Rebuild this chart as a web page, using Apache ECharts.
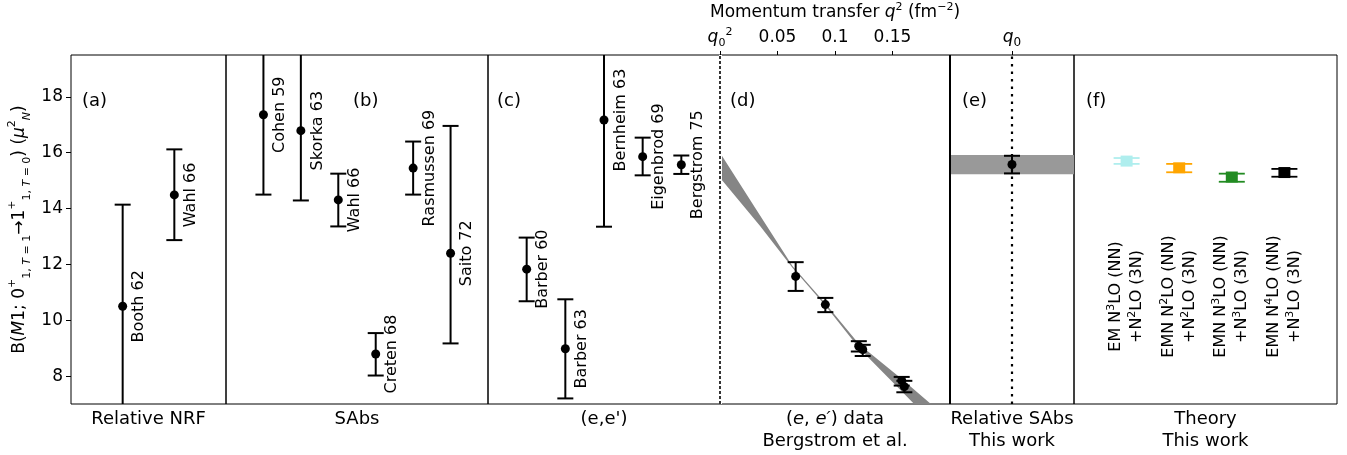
<!DOCTYPE html>
<html>
<head>
<meta charset="utf-8">
<script src="https://cdn.jsdelivr.net/npm/echarts@6.0.0/dist/echarts.min.js"></script>
<style>
  html, body { margin: 0; padding: 0; background: #fff; }
  #chart { width: 1347px; height: 455px; }
</style>
</head>
<body>
<div id="chart"></div>
<script>
// y ticks shared by every panel
var yTicks = [8, 10, 12, 14, 16, 18];

// (a) relative NRF
var nrfNames = ['Booth 62', 'Wahl 66'];
var nrfX = [1, 2];
var nrfVal = [10.5, 14.49];
var nrfLo = [6.5, 12.87];
var nrfHi = [14.14, 16.12];

// (b) SAbs
var sabsNames = ['Cohen 59', 'Skorka 63', 'Wahl 66', 'Creten 68', 'Rasmussen 69', 'Saito 72'];
var sabsX = [1, 2, 3, 4, 5, 6];
var sabsVal = [17.36, 16.79, 14.31, 8.79, 15.45, 12.4];
var sabsLo = [14.5, 14.29, 13.36, 8.02, 14.5, 9.17];
var sabsHi = [20.3, 20.1, 15.25, 9.54, 16.4, 16.96];

// (c) (e,e')
var eeNames = ['Barber 60', 'Barber 63', 'Bernheim 63', 'Eigenbrod 69', 'Bergstrom 75'];
var eeX = [1, 2, 3, 4, 5];
var eeVal = [11.83, 8.98, 17.17, 15.86, 15.57];
var eeLo = [10.68, 7.2, 13.35, 15.19, 15.24];
var eeHi = [12.96, 10.75, 21.0, 16.54, 15.9];

// (d) (e,e') data vs q^2
var qTicks = [0, 0.05, 0.1, 0.15];
var qSq = [0.0658, 0.0916, 0.1207, 0.1241, 0.158, 0.1603];
var qVal = [11.57, 10.56, 9.07, 8.95, 7.84, 7.62];
var qLo = [11.05, 10.29, 8.88, 8.72, 7.66, 7.42];
var qHi = [12.08, 10.80, 9.25, 9.12, 7.97, 7.83];
var bandQ = [0, 0.0347, 0.063, 0.0919, 0.121, 0.1586, 0.2];
var bandHi = [16.0, 13.76, 11.94, 10.59, 9.14, 7.88, 6.41];
var bandLo = [15.1, 13.38, 11.88, 10.51, 9.0, 7.43, 5.69];

// (e) this work
var swVal = [15.58];
var swLo = [15.26];
var swHi = [15.89];
var swBand = [15.23, 15.92];

// (f) theory
var thX = [1, 2, 3, 4];
var thVal = [15.70, 15.46, 15.13, 15.29];
var thLo = [15.60, 15.30, 14.96, 15.14];
var thHi = [15.81, 15.60, 15.25, 15.42];
var thColors = ['#afeeee', '#ffa500', '#228b22', '#000000'];
var thLabels = [
  '{t|EM N}{s|3}{t|LO (NN)}\n{t|+N}{s|2}{t|LO (3N)}',
  '{t|EMN N}{s|2}{t|LO (NN)}\n{t|+N}{s|2}{t|LO (3N)}',
  '{t|EMN N}{s|3}{t|LO (NN)}\n{t|+N}{s|3}{t|LO (3N)}',
  '{t|EMN N}{s|4}{t|LO (NN)}\n{t|+N}{s|3}{t|LO (3N)}'
];
var thLabelY = 10.85;

var FONT = 'DejaVu Sans';
var chart = echarts.init(document.getElementById('chart'));

function rows(xs, v, lo, hi) {
  return xs.map(function (x, i) { return [x, v[i], lo[i], hi[i]]; });
}
function named(names, xs, v) {
  return names.map(function (n, i) { return { name: n, value: [xs[i], v[i]] }; });
}
function errorBars(capHalf, lw, colors) {
  return function (params, api) {
    var x = api.value(0);
    var lo = api.coord([x, api.value(2)]);
    var hi = api.coord([x, api.value(3)]);
    var c = colors ? colors[params.dataIndex] : '#000';
    var st = { stroke: c, lineWidth: lw };
    return {
      type: 'group',
      children: [
        { type: 'line', shape: { x1: lo[0], y1: lo[1], x2: hi[0], y2: hi[1] }, style: st },
        { type: 'line', shape: { x1: lo[0] - capHalf, y1: lo[1], x2: lo[0] + capHalf, y2: lo[1] }, style: st },
        { type: 'line', shape: { x1: hi[0] - capHalf, y1: hi[1], x2: hi[0] + capHalf, y2: hi[1] }, style: st }
      ]
    };
  };
}

var grids = [
  { left: 71, width: 155 },
  { left: 226, width: 262 },
  { left: 488, width: 232 },
  { left: 720, width: 230 },
  { left: 950, width: 124 },
  { left: 1074, width: 263 }
].map(function (g) {
  return { left: g.left, width: g.width, top: 55, height: 349, show: true,
    outerBoundsMode: 'none', containLabel: false,
    borderColor: '#000', borderWidth: 1, backgroundColor: 'transparent' };
});

var nameStyle = { fontSize: 18, color: '#000', fontFamily: FONT, lineHeight: 22,
  rich: { n: { fontSize: 18, fontFamily: FONT, lineHeight: 22 },
          i: { fontSize: 18, fontFamily: FONT, fontStyle: 'italic', lineHeight: 22 } } };

var bottomNames = ['Relative NRF', 'SAbs', "(e,e')",
  '{n|(}{i|e}{n|, }{i|e′}{n|) data}\n{n|Bergstrom et al.}',
  'Relative SAbs\nThis work', 'Theory\nThis work'];
var xRanges = [[0, 3], [0, 7], [0, 6], [0, 0.2], [0, 2], [0, 5]];

var xAxes = bottomNames.map(function (nm, i) {
  return {
    gridIndex: i, type: 'value', position: 'bottom',
    min: xRanges[i][0], max: xRanges[i][1],
    axisLine: { show: false }, axisTick: { show: false }, axisLabel: { show: false },
    splitLine: { show: false },
    name: nm, nameLocation: 'middle', nameGap: 4, nameTextStyle: nameStyle
  };
});
// top axis of (d): momentum transfer
xAxes.push({
  gridIndex: 3, type: 'value', position: 'top', min: 0, max: 0.2,
  axisLine: { show: false }, splitLine: { show: false },
  axisTick: { show: true, customValues: qTicks, length: 4, lineStyle: { color: '#000', width: 1 } },
  axisLabel: {
    show: true, customValues: qTicks, margin: 6, fontSize: 17, color: '#000', fontFamily: FONT,
    formatter: function (v) { return v === 0 ? '{i|q}{sb|0}{sp|2}' : '{n|' + v + '}'; },
    rich: {
      n: { fontSize: 17, fontFamily: FONT, lineHeight: 22 },
      i: { fontSize: 17, fontFamily: FONT, fontStyle: 'italic', lineHeight: 22 },
      sb: { fontSize: 11, fontFamily: FONT, lineHeight: 12, verticalAlign: 'bottom' },
      sp: { fontSize: 11, fontFamily: FONT, lineHeight: 12, verticalAlign: 'top' }
    }
  },
  name: 'Momentum transfer {i|q}{sp|2} (fm{sp|−2})', nameLocation: 'middle', nameGap: 31,
  nameTextStyle: {
    fontSize: 17, color: '#000', fontFamily: FONT,
    rich: {
      n: { fontSize: 17, fontFamily: FONT },
      i: { fontSize: 17, fontFamily: FONT, fontStyle: 'italic', lineHeight: 22 },
      sp: { fontSize: 11, fontFamily: FONT, lineHeight: 12, verticalAlign: 'top' }
    }
  }
});
// top axis of (e): q0
xAxes.push({
  gridIndex: 4, type: 'value', position: 'top', min: 0, max: 2,
  axisLine: { show: false }, splitLine: { show: false },
  axisTick: { show: true, customValues: [1], length: 4, lineStyle: { color: '#000', width: 1 } },
  axisLabel: {
    show: true, customValues: [1], margin: 6, color: '#000',
    formatter: function () { return '{i|q}{sb|0}'; },
    rich: {
      i: { fontSize: 17, fontFamily: FONT, fontStyle: 'italic', lineHeight: 22 },
      sb: { fontSize: 12, fontFamily: FONT, lineHeight: 14, verticalAlign: 'bottom' }
    }
  }
});

var yAxes = grids.map(function (g, i) {
  var y = {
    gridIndex: i, type: 'value', min: 7, max: 19.5,
    axisLine: { show: false }, splitLine: { show: false },
    axisTick: { show: false }, axisLabel: { show: false }
  };
  if (i === 0) {
    y.axisTick = { show: true, customValues: yTicks, length: 5, lineStyle: { color: '#000', width: 1 } };
    y.axisLabel = { show: true, customValues: yTicks, fontSize: 17, color: '#000', fontFamily: FONT, margin: 8 };
    y.name = '{n|B(}{i|M}{n|1; 0}{sp|+}{sb|1, }{sbi|T}{sb| = 1}{n|→1}{sp|+}{sb|1, }{sbi|T}{sb| = 0}{n|) (}{i|μ}{sp|2}{sbi|N}{n|)}';
    y.nameLocation = 'middle';
    y.nameRotate = 90;
    y.nameGap = 38;
    y.nameTextStyle = {
      color: '#000', fontFamily: FONT,
      rich: {
        n: { fontSize: 17, fontFamily: FONT, lineHeight: 26 },
        i: { fontSize: 17, fontFamily: FONT, fontStyle: 'italic', lineHeight: 26 },
        sp: { fontSize: 11, fontFamily: FONT, lineHeight: 12, verticalAlign: 'top' },
        sb: { fontSize: 11, fontFamily: FONT, lineHeight: 12, verticalAlign: 'bottom' },
        sbi: { fontSize: 11, fontFamily: FONT, fontStyle: 'italic', lineHeight: 12, verticalAlign: 'bottom' }
      }
    };
  }
  return y;
});

var pointLabel = {
  show: true, formatter: '{b}', rotate: 90, position: 'right', distance: 12,
  align: 'center', verticalAlign: 'middle', fontSize: 16, color: '#000', fontFamily: FONT
};

function panelSeries(idx, names, xs, v, lo, hi) {
  return [
    { type: 'custom', xAxisIndex: idx, yAxisIndex: idx, clip: true, z: 3,
      renderItem: errorBars(8, 2), data: rows(xs, v, lo, hi), silent: true },
    { type: 'scatter', xAxisIndex: idx, yAxisIndex: idx, symbol: 'circle', symbolSize: 9, z: 4,
      itemStyle: { color: '#000', opacity: 1 }, label: pointLabel, data: named(names, xs, v), silent: true }
  ];
}

var series = [];
series = series.concat(panelSeries(0, nrfNames, nrfX, nrfVal, nrfLo, nrfHi));
series = series.concat(panelSeries(1, sabsNames, sabsX, sabsVal, sabsLo, sabsHi));
series = series.concat(panelSeries(2, eeNames, eeX, eeVal, eeLo, eeHi));

// (d) band + points
series.push({
  type: 'custom', xAxisIndex: 3, yAxisIndex: 3, clip: true, z: 2, silent: true,
  data: [[bandQ[0], bandHi[0]]],
  renderItem: function (params, api) {
    var pts = [];
    for (var i = 0; i < bandQ.length; i++) pts.push(api.coord([bandQ[i], bandHi[i]]));
    for (var j = bandQ.length - 1; j >= 0; j--) pts.push(api.coord([bandQ[j], bandLo[j]]));
    return { type: 'polygon', shape: { points: pts }, style: { fill: '#858585' } };
  }
});
series.push({ type: 'custom', xAxisIndex: 3, yAxisIndex: 3, clip: true, z: 3, silent: true,
  renderItem: errorBars(8, 2), data: rows(qSq, qVal, qLo, qHi) });
series.push({
  type: 'scatter', xAxisIndex: 3, yAxisIndex: 3, symbolSize: 9, z: 4, silent: true,
  itemStyle: { color: '#000', opacity: 1 },
  data: qSq.map(function (q, i) { return [q, qVal[i]]; }),
  markLine: {
    silent: true, symbol: 'none', label: { show: false },
    data: [
      { xAxis: qTicks[0], lineStyle: { color: '#fff', width: 3, type: 'solid' } },
      { xAxis: qTicks[0], lineStyle: { color: '#000', width: 1.6, type: [3, 2] } }
    ]
  }
});

// (e) this work
series.push({ type: 'custom', xAxisIndex: 4, yAxisIndex: 4, clip: true, z: 3, silent: true,
  renderItem: errorBars(8, 2), data: rows([1], swVal, swLo, swHi) });
series.push({
  type: 'scatter', xAxisIndex: 4, yAxisIndex: 4, symbolSize: 9, z: 4, silent: true,
  itemStyle: { color: '#000', opacity: 1 }, data: [[1, swVal[0]]],
  markArea: { silent: true, itemStyle: { color: '#999999' },
    data: [[{ yAxis: swBand[0] }, { yAxis: swBand[1] }]] },
  markLine: {
    silent: true, symbol: 'none', label: { show: false },
    data: [
      { xAxis: 1, lineStyle: { color: '#000', width: 2.2, type: [2.5, 5] } },
      { xAxis: 0, lineStyle: { color: '#000', width: 2, type: 'solid' } }
    ]
  }
});

// (f) theory
series.push({ type: 'custom', xAxisIndex: 5, yAxisIndex: 5, clip: true, z: 3, silent: true,
  renderItem: errorBars(13, 1.8, thColors), data: rows(thX, thVal, thLo, thHi) });
series.push({
  type: 'scatter', xAxisIndex: 5, yAxisIndex: 5, symbol: 'rect', symbolSize: [12, 11], z: 4, silent: true,
  data: thX.map(function (x, i) { return { value: [x, thVal[i]], itemStyle: { color: thColors[i], opacity: 1 } }; })
});
series.push({
  type: 'scatter', xAxisIndex: 5, yAxisIndex: 5, symbolSize: 0, z: 4, silent: true,
  itemStyle: { color: '#000', opacity: 1 },
  data: thX.map(function (x, i) { return { value: [x, thLabelY], name: thLabels[i] }; }),
  label: {
    show: true, position: 'top', distance: 0, rotate: 90, formatter: '{b}', align: 'center', verticalAlign: 'middle',
    color: '#000', textBorderWidth: 0,
    rich: {
      t: { fontSize: 16, fontFamily: FONT, lineHeight: 21, color: '#000', textBorderWidth: 0 },
      s: { fontSize: 11, fontFamily: FONT, lineHeight: 11, verticalAlign: 'top', color: '#000', textBorderWidth: 0 }
    }
  }
});

var letters = ['(a)', '(b)', '(c)', '(d)', '(e)', '(f)'];
var letterX = [82, 353, 497, 730, 962, 1086];

chart.setOption({
  animation: false,
  backgroundColor: '#fff',
  textStyle: { fontFamily: FONT },
  grid: grids,
  xAxis: xAxes,
  yAxis: yAxes,
  series: series,
  graphic: letters.map(function (t, i) {
    return { type: 'text', left: letterX[i], top: 92, z: 10, silent: true,
      style: { text: t, fontSize: 18, fontFamily: FONT, fill: '#000' } };
  })
});
</script>
</body>
</html>
